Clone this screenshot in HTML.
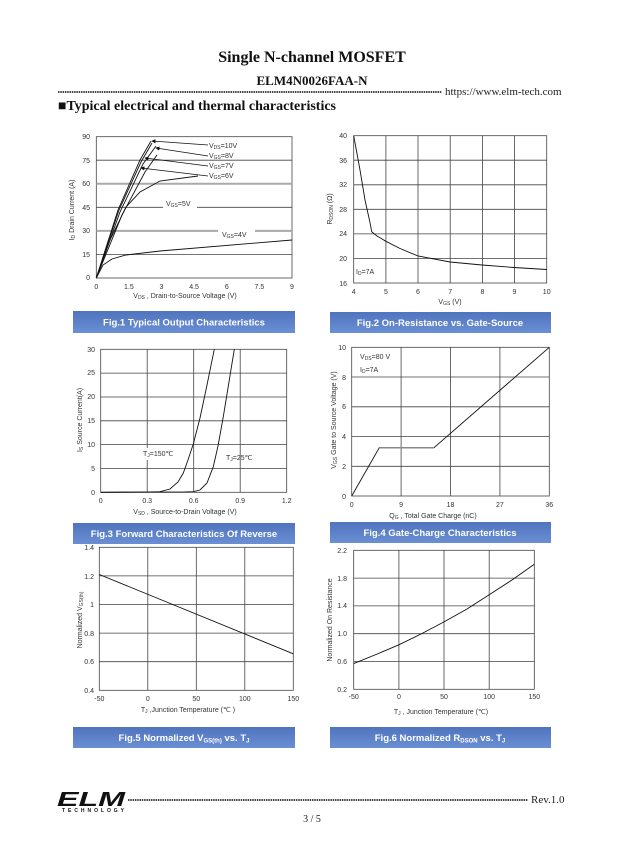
<!DOCTYPE html>
<html><head><meta charset="utf-8"><style>
body{margin:0;background:#fff;}
svg{display:block;font-family:"Liberation Sans",sans-serif;}
.t{font-size:7px;fill:#333}
.g{stroke:#444;stroke-width:0.8;fill:none}
.c{stroke:#111;stroke-width:0.9;fill:none}
.b{font-size:9.5px;font-weight:bold;fill:#fff}
.s{font-family:"Liberation Serif",serif;font-weight:bold;fill:#111}
</style></head><body>
<svg width="624" height="865" viewBox="0 0 624 865" xmlns="http://www.w3.org/2000/svg">
<defs>
<linearGradient id="bg" x1="0" y1="0" x2="0" y2="1"><stop offset="0" stop-color="#4f74bd"/><stop offset="1" stop-color="#6b8fd4"/></linearGradient>
<marker id="ar" markerWidth="6" markerHeight="6" refX="5" refY="3" orient="auto"><path d="M0,0 L6,3 L0,6z" fill="#111"/></marker>
</defs>
<text class="s" x="312" y="62" font-size="16" text-anchor="middle">Single N-channel MOSFET</text>
<text class="s" x="312" y="85" font-size="13" text-anchor="middle">ELM4N0026FAA-N</text>
<line x1="58" y1="92" x2="442" y2="92" stroke="#444" stroke-width="2" stroke-dasharray="1.5 0.8"/>
<text x="445" y="95" font-family="Liberation Serif,serif" font-size="11" fill="#222">https://www.elm-tech.com</text>
<text class="s" x="58" y="110" font-size="14">■Typical electrical and thermal characteristics</text>

<!-- Fig1 -->
<g>
<rect x="96.3" y="136.7" width="195.7" height="141.3" class="g"/>
<g stroke="#444" stroke-width="0.8">
<line x1="96.3" x2="292" y1="254.5" y2="254.5"/><line x1="96.3" x2="292" y1="207.3" y2="207.3"/><line x1="96.3" x2="292" y1="160.2" y2="160.2"/>
</g>
<g stroke="#aaa" stroke-width="2">
<line x1="96.3" x2="292" y1="230.9" y2="230.9"/><line x1="96.3" x2="292" y1="183.8" y2="183.8"/>
</g>
<g class="t" text-anchor="end"><text x="90" y="280">0</text><text x="90" y="257">15</text><text x="90" y="233">30</text><text x="90" y="210">45</text><text x="90" y="186">60</text><text x="90" y="163">75</text><text x="90" y="139">90</text></g>
<g class="t" text-anchor="middle"><text x="96.3" y="289">0</text><text x="128.9" y="289">1.5</text><text x="161.5" y="289">3</text><text x="194.1" y="289">4.5</text><text x="226.8" y="289">6</text><text x="259.4" y="289">7.5</text><text x="292" y="289">9</text></g>
<text class="t" x="185" y="298" text-anchor="middle">V<tspan font-size="5" dy="1">DS</tspan><tspan dy="-1"> , Drain-to-Source Voltage (V)</tspan></text>
<text class="t" transform="translate(74,210) rotate(-90)" text-anchor="middle">I<tspan font-size="5" dy="1">D</tspan><tspan dy="-1"> Drain Current (A)</tspan></text>
<polyline class="c" points="96.3,278 118,210 140,160 151,141"/>
<polyline class="c" points="96.3,278 119,210 141,162 152,143"/>
<polyline class="c" points="96.3,278 120,212 143,164 156,146"/>
<polyline class="c" points="96.3,278 122,215 145,172 157,155"/>
<polyline class="c" points="96.3,278 110,240 126,207 140,192 160,181 198,176"/>
<polyline class="c" points="96.3,278 103,265 112,259 126,255 160,251 292,240"/>
<g stroke="#111" stroke-width="0.7" marker-end="url(#ar)">
<line x1="208" y1="145" x2="152" y2="141"/><line x1="208" y1="156" x2="156" y2="148"/><line x1="208" y1="166" x2="145" y2="158"/><line x1="208" y1="176" x2="141" y2="168"/>
</g>
<g class="t"><text x="209" y="148">V<tspan font-size="5" dy="1">DS</tspan><tspan dy="-1">=10V</tspan></text>
<text x="209" y="158">V<tspan font-size="5" dy="1">GS</tspan><tspan dy="-1">=8V</tspan></text>
<text x="209" y="168">V<tspan font-size="5" dy="1">GS</tspan><tspan dy="-1">=7V</tspan></text>
<text x="209" y="178">V<tspan font-size="5" dy="1">GS</tspan><tspan dy="-1">=6V</tspan></text></g>
<rect x="163" y="198" width="34" height="12" fill="#fff"/>
<text class="t" x="166" y="206">V<tspan font-size="5" dy="1">GS</tspan><tspan dy="-1">=5V</tspan></text>
<rect x="218" y="228" width="37" height="12" fill="#fff"/>
<text class="t" x="222" y="237">V<tspan font-size="5" dy="1">GS</tspan><tspan dy="-1">=4V</tspan></text>
<rect x="73" y="311" width="222" height="22" fill="url(#bg)"/>
<text class="b" x="184" y="325.5" text-anchor="middle">Fig.1 Typical Output Characteristics</text>
</g>

<!-- Fig2 -->
<g>
<g class="g">
<rect x="353.7" y="135.7" width="193" height="147.3"/>
<path d="M385.9,135.7V283M418,135.7V283M450.2,135.7V283M482.4,135.7V283M514.5,135.7V283M353.7,160.2H546.7M353.7,184.8H546.7M353.7,209.3H546.7M353.7,233.9H546.7M353.7,258.4H546.7"/>
</g>
<g class="t" text-anchor="end"><text x="347" y="286">16</text><text x="347" y="261">20</text><text x="347" y="236">24</text><text x="347" y="212">28</text><text x="347" y="187">32</text><text x="347" y="163">36</text><text x="347" y="138">40</text></g>
<g class="t" text-anchor="middle"><text x="353.7" y="294">4</text><text x="385.9" y="294">5</text><text x="418" y="294">6</text><text x="450.2" y="294">7</text><text x="482.4" y="294">8</text><text x="514.5" y="294">9</text><text x="546.7" y="294">10</text></g>
<text class="t" x="450" y="304" text-anchor="middle">V<tspan font-size="5" dy="1">GS</tspan><tspan dy="-1"> (V)</tspan></text>
<text class="t" transform="translate(332,209) rotate(-90)" text-anchor="middle">R<tspan font-size="5" dy="1">DSON</tspan><tspan dy="-1"> (Ω)</tspan></text>
<polyline class="c" points="353.7,135.7 360,170 365,200 369.8,221.6 371.7,231.7 377,236 385.9,241.3 400,248.5 418,256 450,262 482,265 514,267.5 546.7,269.5"/>
<text class="t" x="356" y="274">I<tspan font-size="5" dy="1">D</tspan><tspan dy="-1">=7A</tspan></text>
<rect x="330" y="312" width="221" height="21" fill="url(#bg)"/>
<text class="b" x="440" y="326" text-anchor="middle">Fig.2 On-Resistance vs. Gate-Source</text>
</g>

<!-- Fig3 -->
<g>
<g class="g">
<rect x="100.7" y="349.3" width="186" height="143"/>
<path d="M147.2,349.3V492.3M193.7,349.3V492.3M240.2,349.3V492.3M100.7,468.5H286.7M100.7,444.6H286.7M100.7,420.8H286.7M100.7,397H286.7M100.7,373.1H286.7"/>
</g>
<g class="t" text-anchor="end"><text x="95" y="495">0</text><text x="95" y="471">5</text><text x="95" y="447">10</text><text x="95" y="423">15</text><text x="95" y="399">20</text><text x="95" y="375">25</text><text x="95" y="352">30</text></g>
<g class="t" text-anchor="middle"><text x="100.7" y="503">0</text><text x="147.2" y="503">0.3</text><text x="193.7" y="503">0.6</text><text x="240.2" y="503">0.9</text><text x="286.7" y="503">1.2</text></g>
<text class="t" x="185" y="514" text-anchor="middle">V<tspan font-size="5" dy="1">SD</tspan><tspan dy="-1"> , Source-to-Drain Voltage (V)</tspan></text>
<text class="t" transform="translate(82,420) rotate(-90)" text-anchor="middle">I<tspan font-size="5" dy="1">S</tspan><tspan dy="-1"> Source Current(A)</tspan></text>
<polyline class="c" points="100.7,492.3 150,492 160,491.7 170,489 178,482 183.3,473 188,460 193.3,444 200,418 207,385 214.3,349.3"/>
<polyline class="c" points="100.7,492.3 185,492 193.3,491.7 200,490 207,483 213.3,466.7 218,446 223.3,416.7 228,388 234.3,349.3"/>
<rect x="141" y="448" width="40" height="12" fill="#fff"/>
<text class="t" x="143" y="456">T<tspan font-size="5" dy="1">J</tspan><tspan dy="-1">=150℃</tspan></text>
<text class="t" x="226" y="460">T<tspan font-size="5" dy="1">J</tspan><tspan dy="-1">=25℃</tspan></text>
<rect x="73" y="523" width="222" height="21" fill="url(#bg)"/>
<text class="b" x="184" y="537" text-anchor="middle">Fig.3 Forward Characteristics Of Reverse</text>
</g>

<!-- Fig4 -->
<g>
<g class="g">
<rect x="351.7" y="347.3" width="197.6" height="148.7"/>
<path d="M401.1,347.3V496M450.5,347.3V496M499.9,347.3V496M351.7,466.3H549.3M351.7,436.5H549.3M351.7,406.8H549.3M351.7,377H549.3"/>
</g>
<g class="t" text-anchor="end"><text x="346" y="499">0</text><text x="346" y="469">2</text><text x="346" y="439">4</text><text x="346" y="409">6</text><text x="346" y="380">8</text><text x="346" y="350">10</text></g>
<g class="t" text-anchor="middle"><text x="351.7" y="507">0</text><text x="401.1" y="507">9</text><text x="450.5" y="507">18</text><text x="499.9" y="507">27</text><text x="549.3" y="507">36</text></g>
<text class="t" x="433" y="518" text-anchor="middle">Q<tspan font-size="5" dy="1">G</tspan><tspan dy="-1"> , Total Gate Charge (nC)</tspan></text>
<text class="t" transform="translate(336,420) rotate(-90)" text-anchor="middle">V<tspan font-size="5" dy="1">GS</tspan><tspan dy="-1">  Gate to Source Voltage (V)</tspan></text>
<polyline class="c" points="351.7,496 379.3,447.7 434,447.7 549.3,347.3"/>
<line x1="379.3" y1="447.7" x2="434" y2="447.7" stroke="#888" stroke-width="1.5"/>
<text class="t" x="360" y="359">V<tspan font-size="5" dy="1">DS</tspan><tspan dy="-1">=80 V</tspan></text>
<text class="t" x="360" y="372">I<tspan font-size="5" dy="1">D</tspan><tspan dy="-1">=7A</tspan></text>
<rect x="330" y="522" width="221" height="21" fill="url(#bg)"/>
<text class="b" x="440" y="536" text-anchor="middle">Fig.4 Gate-Charge Characteristics</text>
</g>

<!-- Fig5 -->
<g>
<g class="g">
<rect x="99.3" y="547.3" width="194" height="143"/>
<path d="M147.8,547.3V690.3M196.3,547.3V690.3M244.8,547.3V690.3M99.3,661.7H293.3M99.3,633.1H293.3M99.3,604.5H293.3M99.3,575.9H293.3"/>
</g>
<g class="t" text-anchor="end"><text x="94" y="693">0.4</text><text x="94" y="664">0.6</text><text x="94" y="636">0.8</text><text x="94" y="607">1</text><text x="94" y="579">1.2</text><text x="94" y="550">1.4</text></g>
<g class="t" text-anchor="middle"><text x="99.3" y="701">-50</text><text x="147.8" y="701">0</text><text x="196.3" y="701">50</text><text x="244.8" y="701">100</text><text x="293.3" y="701">150</text></g>
<text class="t" x="188" y="712" text-anchor="middle">T<tspan font-size="5" dy="1">J</tspan><tspan dy="-1"> ,Junction Temperature (℃ )</tspan></text>
<text class="t" transform="translate(82,620) rotate(-90)" text-anchor="middle">Normalized V<tspan font-size="5" dy="1">GS(th)</tspan></text>
<line class="c" x1="99.3" y1="574.5" x2="293.3" y2="653.8"/>
<rect x="73" y="727" width="222" height="21" fill="url(#bg)"/>
<text class="b" x="184" y="741" text-anchor="middle">Fig.5 Normalized V<tspan font-size="6" dy="1.5">GS(th)</tspan><tspan dy="-1.5"> vs. T</tspan><tspan font-size="6" dy="1.5">J</tspan></text>
</g>

<!-- Fig6 -->
<g>
<g class="g">
<rect x="353.7" y="550.3" width="180.6" height="139"/>
<path d="M398.9,550.3V689.3M444,550.3V689.3M489.2,550.3V689.3M353.7,661.5H534.3M353.7,633.7H534.3M353.7,605.9H534.3M353.7,578.1H534.3"/>
</g>
<g class="t" text-anchor="end"><text x="347" y="692">0.2</text><text x="347" y="664">0.6</text><text x="347" y="636">1.0</text><text x="347" y="608">1.4</text><text x="347" y="581">1.8</text><text x="347" y="553">2.2</text></g>
<g class="t" text-anchor="middle"><text x="353.7" y="699">-50</text><text x="398.9" y="699">0</text><text x="444" y="699">50</text><text x="489.2" y="699">100</text><text x="534.3" y="699">150</text></g>
<text class="t" x="441" y="714" text-anchor="middle">T<tspan font-size="5" dy="1">J</tspan><tspan dy="-1"> , Junction Temperature (℃)</tspan></text>
<text class="t" transform="translate(332,620) rotate(-90)" text-anchor="middle">Normalized On Resistance</text>
<polyline class="c" points="353.7,663.6 376,654.5 398.9,644.8 421,634 444,621.9 467,609 489.2,594.8 512,580 534.3,564.2"/>
<rect x="330" y="727" width="221" height="21" fill="url(#bg)"/>
<text class="b" x="440" y="741" text-anchor="middle">Fig.6 Normalized R<tspan font-size="6" dy="1.5">DSON</tspan><tspan dy="-1.5"> vs. T</tspan><tspan font-size="6" dy="1.5">J</tspan></text>
</g>

<!-- footer -->
<text x="57" y="806" font-family="Liberation Sans,sans-serif" font-weight="bold" font-style="italic" font-size="20" fill="#111" textLength="68" lengthAdjust="spacingAndGlyphs">ELM</text>
<text x="62" y="812" font-family="Liberation Sans,sans-serif" font-weight="bold" font-size="5" fill="#111" textLength="62">TECHNOLOGY</text>
<line x1="128" y1="800" x2="528" y2="800" stroke="#444" stroke-width="2" stroke-dasharray="1.5 0.8"/>
<text x="531" y="803" font-family="Liberation Serif,serif" font-size="11" fill="#222">Rev.1.0</text>
<text x="312" y="822" font-family="Liberation Serif,serif" font-size="10" fill="#222" text-anchor="middle">3 / 5</text>
</svg>
</body></html>
